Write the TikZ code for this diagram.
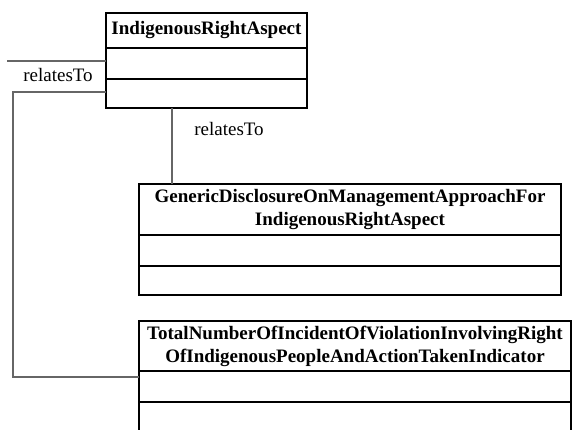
\documentclass[tikz,border=0pt]{standalone}
\usepackage{fontspec}
\setmainfont{Liberation Serif}
\usepackage{tikz}
\usetikzlibrary{positioning}

\tikzset{
    classname/.style={draw=black, line width=0.75pt, inner sep=0pt, outer sep=0pt,
        anchor=north west, font=\fontsize{9.5}{11.6}\selectfont\bfseries, align=center},
    compartment/.style={draw=black, line width=0.75pt, inner sep=0pt, outer sep=0pt},
    link/.style={draw=black!60, line width=0.55pt},
    linklabel/.style={font=\fontsize{9.5}{11.6}\selectfont, inner sep=0pt}
}

\begin{document}
\begin{tikzpicture}[x=0.5pt, y=-0.5pt]
    \useasboundingbox (0,0) rectangle (572,429);
    \clip (0,0) rectangle (572,429);

    % IndigenousRightAspect
    \node[classname, minimum width=100.5pt, minimum height=17.5pt] (ira) at (106,13) {IndigenousRightAspect};
    \node[compartment, minimum width=100.5pt, minimum height=15.5pt, below=0pt of ira] (ira-attr) {};
    \node[compartment, minimum width=100.5pt, minimum height=14.5pt, below=0pt of ira-attr] (ira-ops) {};

    % GenericDisclosure...
    \node[classname, minimum width=211pt, minimum height=25.5pt] (gdma) at (139,184)
        {GenericDisclosureOnManagementApproachFor\\IndigenousRightAspect};
    \node[compartment, minimum width=211pt, minimum height=15.5pt, below=0pt of gdma] (gdma-attr) {};
    \node[compartment, minimum width=211pt, minimum height=14.5pt, below=0pt of gdma-attr] (gdma-ops) {};

    % TotalNumber... indicator
    \node[classname, minimum width=216pt, minimum height=25pt] (tni) at (139,321)
        {TotalNumberOfIncidentOfViolationInvolvingRight\\OfIndigenousPeopleAndActionTakenIndicator};
    \node[compartment, minimum width=216pt, minimum height=15.5pt, below=0pt of tni] (tni-attr) {};
    \node[compartment, minimum width=216pt, minimum height=15.5pt, below=0pt of tni-attr] (tni-ops) {};

    % associations
    \coordinate (outL) at (7,61);
    \coordinate (bendL) at (13,377);
    \coordinate (dropX) at (172,150);
    \draw[link] ([yshift=1.25pt]ira-attr.west) -- (outL -| ira-attr.west) -- (outL);
    \draw[link] ([yshift=0.75pt]ira-ops.west) -| (bendL) -- (bendL -| tni-attr.west);
    \draw[link] (ira-ops.south -| dropX) -- (gdma.north -| dropX);

    \node[linklabel] (lblL) at (58,75) {relatesTo};
    \node[linklabel] (lblD) at (229,129) {relatesTo};
\end{tikzpicture}
\end{document}
